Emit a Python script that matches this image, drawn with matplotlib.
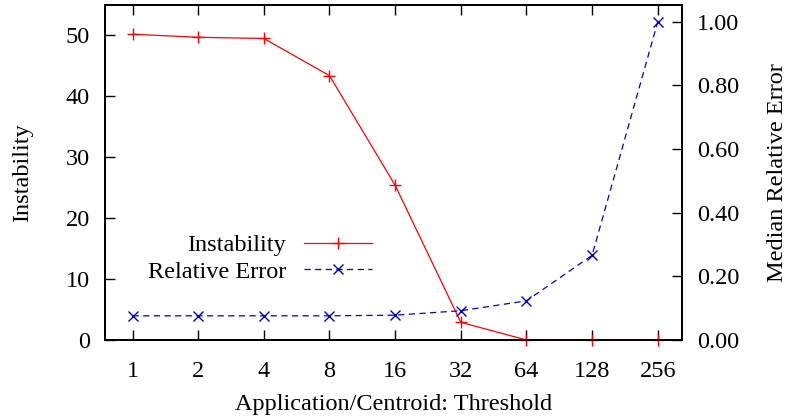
import matplotlib
matplotlib.use('Agg')
import matplotlib.pyplot as plt

# Data
thresholds = ['1', '2', '4', '8', '16', '32', '64', '128', '256']
instability = [50.2, 49.7, 49.5, 43.4, 25.4, 2.9, 0.0, 0.0, 0.0]
rel_error = [0.076, 0.076, 0.076, 0.076, 0.078, 0.092, 0.123, 0.266, 1.00]

plt.rcParams['font.family'] = ['Liberation Serif', 'DejaVu Serif']
plt.rcParams['font.size'] = 17.5

fig = plt.figure(figsize=(7.9, 4.16), dpi=100)
ax = fig.add_axes([0.1329, 0.1827, 0.7304, 0.8053])
ax2 = ax.twinx()

x = list(range(len(thresholds)))

l1, = ax.plot(x, instability, color='#ff0000', lw=0.9, marker='+',
              markersize=8.5, markeredgewidth=1.0, label='Instability', clip_on=False, zorder=5)
l2, = ax2.plot(x, rel_error, color='#0000c8', lw=0.9, ls=(0, (5, 3.5)), marker='x',
               markersize=7, markeredgewidth=1.0, label='Relative Error', clip_on=False)

ax.set_xlim(-0.42, 8.37)
ax.set_ylim(0, 55)
ax2.set_ylim(0, 1.053)

ax.set_xticks(x)
ax.set_xticklabels(thresholds)
ax.set_yticks([0, 10, 20, 30, 40, 50])
ax2.set_yticks([0, 0.2, 0.4, 0.6, 0.8, 1.0])
ax2.set_yticklabels([f'{v:.2f}' for v in [0, 0.2, 0.4, 0.6, 0.8, 1.0]])

ax.tick_params(axis='x', direction='in', length=7.5, width=1.0, top=True, pad=15)
ax.tick_params(axis='y', direction='in', length=7.5, width=1.0, right=False, pad=11)
ax2.tick_params(axis='y', direction='in', length=7.5, width=1.0, pad=11)

for a in (ax, ax2):
    for s in a.spines.values():
        s.set_linewidth(1.3)

ax.set_xlabel('Application/Centroid: Threshold', labelpad=9)
ax.set_ylabel('Instability', labelpad=23)
ax2.set_ylabel('Median Relative Error', labelpad=20)

# legend: labels right-aligned, sample to the right
ax.legend(handles=[l1, l2], loc='upper right', bbox_to_anchor=(0.463, 0.315),
          frameon=False, markerfirst=False, handlelength=2.8,
          labelspacing=0.17, handletextpad=0.75, borderaxespad=0, borderpad=0)

fig.savefig('out.png', dpi=100)
